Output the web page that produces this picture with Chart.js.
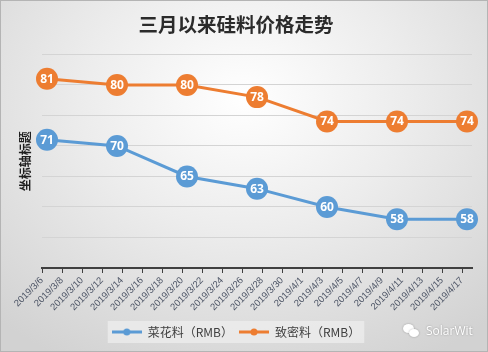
<!DOCTYPE html>
<html>
<head>
<meta charset="utf-8">
<script src="https://cdn.jsdelivr.net/npm/chart.js@4"></script>
<style>
  html, body { margin: 0; padding: 0; }
  #wrap {
    position: relative; width: 488px; height: 352px; overflow: hidden;
    background: radial-gradient(ellipse 75% 85% at 50% 28%, #ffffff 0%, #ececec 45%, #d2d2d2 100%);
  }
  #frame { position: absolute; left: 0; top: 0; width: 486px; height: 350px; border: 1px solid #b4b4b4; pointer-events: none; }
  #mark { position: absolute; left: 403px; top: 322px; color: #fff; font: 12px "Open Sans", sans-serif;
    text-shadow: 0 0 2px rgba(0,0,0,0.35); display: flex; align-items: center; }
  #mark .ic { position: relative; width: 18px; height: 14px; margin-right: 5px; }
  #mark .ic span { position: absolute; background: #fff; border-radius: 50%; box-shadow: 0 0 2px rgba(0,0,0,0.3); }
</style>
</head>
<body>
<div id="wrap">
  <canvas id="chart" width="488" height="352"></canvas>
  <div id="frame"></div>
  <div id="mark"><div class="ic"><span style="left:0;top:0;width:11px;height:9px"></span><span style="left:6px;top:5px;width:10px;height:8px"></span></div>SolarWit</div>
</div>
<script>
// 数据：按天数(从3/6起)放点
const pointDays = [0, 7, 14, 21, 28, 35, 42];
const caihua = [71, 70, 65, 63, 60, 58, 58];
const mimi = [81, 80, 80, 78, 74, 74, 74];
const seriesNames = ['菜花料（RMB）', '致密料（RMB）'];
const tickLabels = [
  '2019/3/6', '2019/3/8', '2019/3/10', '2019/3/12', '2019/3/14', '2019/3/16',
  '2019/3/18', '2019/3/20', '2019/3/22', '2019/3/24', '2019/3/26', '2019/3/28',
  '2019/3/30', '2019/4/1', '2019/4/3', '2019/4/5', '2019/4/7', '2019/4/9',
  '2019/4/11', '2019/4/13', '2019/4/15', '2019/4/17'
];
const blue = '#5B9BD5';
const orange = '#ED7D31';

// 图例里的小线段+圆点
function marker(color) {
  const c = document.createElement('canvas');
  c.width = 30; c.height = 8;
  const g = c.getContext('2d');
  g.strokeStyle = color; g.lineWidth = 3;
  g.beginPath(); g.moveTo(0, 4); g.lineTo(30, 4); g.stroke();
  g.fillStyle = color;
  g.beginPath(); g.arc(15, 4, 3.5, 0, Math.PI * 2); g.fill();
  return c;
}
const legendMarks = [marker(blue), marker(orange)];

const pointLabels = {
  id: 'pointLabels',
  afterDatasetsDraw(chart) {
    const ctx = chart.ctx;
    ctx.save();
    ctx.fillStyle = '#fff';
    ctx.font = 'bold 12px "Noto Sans", sans-serif';
    ctx.textAlign = 'center';
    ctx.textBaseline = 'middle';
    chart.data.datasets.forEach((ds, i) => {
      chart.getDatasetMeta(i).data.forEach((pt, j) => {
        ctx.fillText(ds.data[j].y, pt.x, pt.y + 0.5);
      });
    });
    ctx.restore();
  }
};

const legendBg = {
  id: 'legendBg',
  beforeDraw(chart) {
    const boxes = chart.legend.legendHitBoxes;
    if (!boxes || !boxes.length) return;
    const last = boxes[boxes.length - 1];
    const l = boxes[0].left - 4, r = last.left + last.width + 4;
    const t = boxes[0].top - 5, h = boxes[0].height + 10;
    const ctx = chart.ctx;
    ctx.save();
    ctx.fillStyle = 'rgba(238,238,238,0.75)';
    ctx.fillRect(l, t, r - l, h);
    ctx.restore();
  }
};

function mkSet(name, vals, color) {
  return {
    label: name,
    data: vals.map((v, i) => ({ x: pointDays[i], y: v })),
    borderColor: color,
    backgroundColor: color,
    borderWidth: 3,
    pointStyle: 'circle',
    pointRadius: 11,
    pointHoverRadius: 11,
    pointBorderWidth: 0,
    tension: 0,
    clip: false
  };
}

new Chart(document.getElementById('chart'), {
  type: 'line',
  data: {
    datasets: [
      mkSet(seriesNames[0], caihua, blue),
      mkSet(seriesNames[1], mimi, orange)
    ]
  },
  options: {
    responsive: false,
    animation: false,
    layout: { padding: { left: 0, right: 16, top: 0, bottom: 4 } },
    plugins: {
      title: {
        display: true,
        text: '三月以来硅料价格走势',
        color: '#2b2b2b',
        font: { family: '"Noto Sans CJK SC", sans-serif', size: 19.5, weight: 'bold' },
        padding: { top: 13, bottom: 18 }
      },
      legend: {
        position: 'bottom',
        labels: {
          usePointStyle: true,
          pointStyleWidth: 30,
          color: '#404040',
          font: { family: '"Noto Sans CJK SC", sans-serif', size: 12 },
          padding: 6,
          generateLabels(chart) {
            return chart.data.datasets.map((ds, i) => ({
              text: ds.label, fillStyle: ds.borderColor, strokeStyle: ds.borderColor,
              pointStyle: legendMarks[i], lineWidth: 0, datasetIndex: i, fontColor: '#404040'
            }));
          }
        }
      },
      tooltip: { enabled: false }
    },
    scales: {
      x: {
        type: 'linear',
        min: -0.5,
        max: 42.5,
        afterBuildTicks(scale) {
          scale.ticks = tickLabels.map((_, i) => ({ value: i * 2 - 0.5 }));
        },
        afterFit(scale) { scale.height = 52; },
        ticks: {
          autoSkip: false,
          minRotation: 45,
          maxRotation: 45,
          color: '#4d5566',
          font: { family: '"Liberation Sans", sans-serif', size: 9.5 },
          padding: 2,
          callback: (v, i) => tickLabels[i]
        },
        grid: { drawOnChartArea: false, drawTicks: true, tickLength: 5, color: '#404040', lineWidth: 1 },
        border: { display: true, color: '#404040', width: 2 }
      },
      y: {
        min: 50,
        max: 85,
        afterFit(scale) { scale.width = 42; },
        ticks: { stepSize: 5, display: false },
        grid: { color: '#d4d4d4', drawTicks: false, lineWidth: 1 },
        border: { display: false },
        title: {
          display: true,
          text: '坐标轴标题',
          color: '#1f1f1f',
          font: { family: '"Noto Sans CJK SC", sans-serif', size: 12, weight: 'bold' },
          padding: { top: 18, bottom: 0 }
        }
      }
    }
  },
  plugins: [legendBg, pointLabels]
});
</script>
</body>
</html>
